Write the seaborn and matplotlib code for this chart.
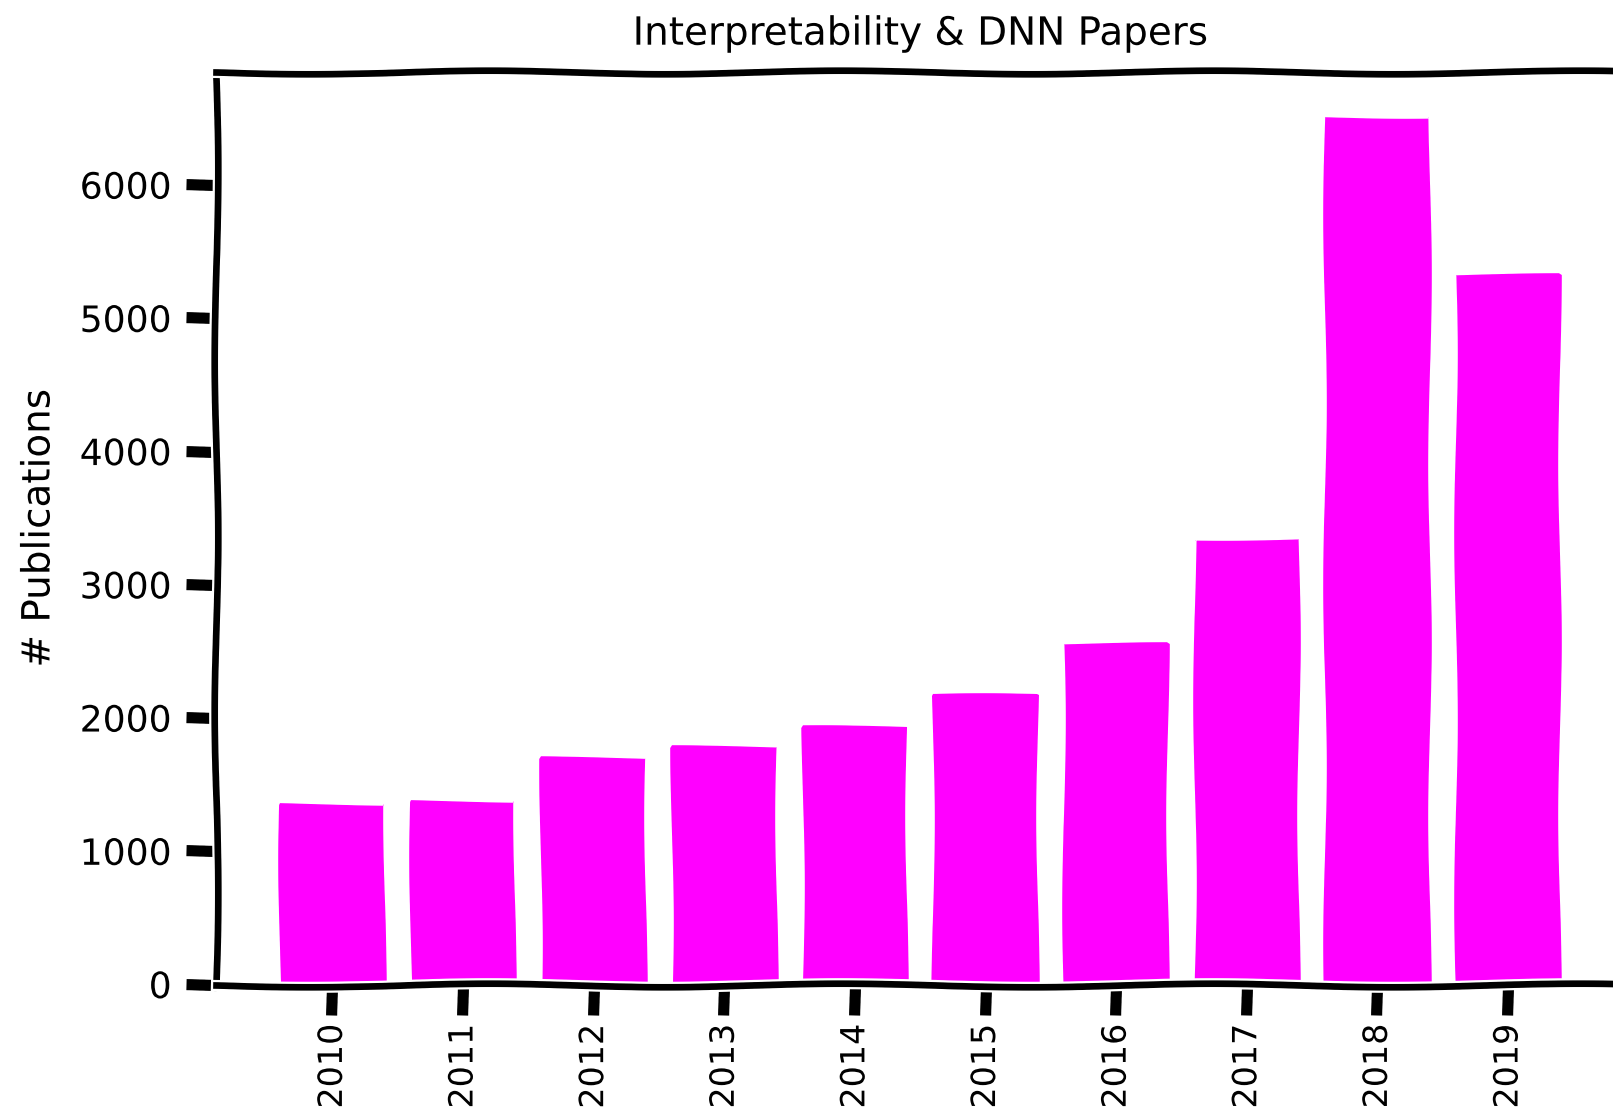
import matplotlib
matplotlib.use('Agg')
import matplotlib.pyplot as plt
import seaborn as sns
import pandas as pd

# Data
years = ['2010', '2011', '2012', '2013', '2014', '2015', '2016', '2017', '2018', '2019']
papers = [1355, 1377, 1703, 1783, 1936, 2173, 2556, 3344, 6513, 5326]

df = pd.DataFrame({'year': years, 'papers': papers})

plt.xkcd(scale=1.8, length=400, randomness=2)
plt.rcParams['font.family'] = ['DejaVu Sans']
plt.rcParams['font.size'] = 14
plt.rcParams['axes.linewidth'] = 2.4

fig = plt.figure(figsize=(8.065, 5.575), dpi=200)
ax = fig.add_axes([0.134, 0.117, 0.873, 0.818])

sns.barplot(data=df, x='year', y='papers', color='#ff00ff', saturation=1, width=0.8, ax=ax)

ax.set_xlim(-0.89, 9.89)
ax.set_ylim(0, 6845)
ax.set_yticks([0, 1000, 2000, 3000, 4000, 5000, 6000])
ax.tick_params(axis='both', length=11, width=4)
ax.tick_params(axis='x', labelrotation=90, labelsize=12, pad=3)
ax.tick_params(axis='y', labelsize=13, pad=5)
ax.set_xlabel('')
ax.set_ylabel('# Publications', fontsize=14, labelpad=8)
ax.set_title('Interpretability & DNN Papers', fontsize=14, pad=10)

fig.savefig('out.png', dpi=200)
